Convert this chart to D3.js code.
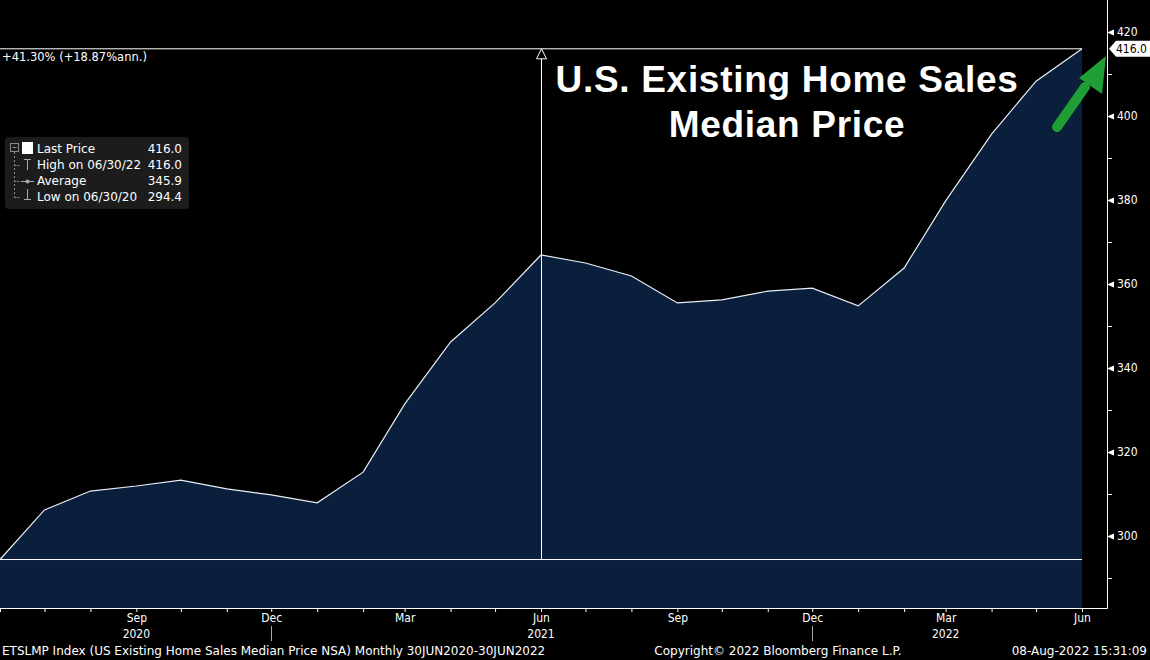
<!DOCTYPE html>
<html>
<head>
<meta charset="utf-8">
<script src="https://cdn.jsdelivr.net/npm/d3@7"></script>
<style>
    body { margin: 0; background: #000; }
    svg { display: block; }
    text { font-family: "DejaVu Sans", sans-serif; fill: #fff; }
</style>
</head>
<body>
<div id="chart"></div>
<script>
// monthly median price (thousand USD), Jun 2020 - Jun 2022
let months = ["2020-06", "2020-07", "2020-08", "2020-09", "2020-10", "2020-11", "2020-12",
    "2021-01", "2021-02", "2021-03", "2021-04", "2021-05", "2021-06", "2021-07", "2021-08",
    "2021-09", "2021-10", "2021-11", "2021-12", "2022-01", "2022-02", "2022-03", "2022-04",
    "2022-05", "2022-06"];
let prices = [294.4, 306.2, 310.7, 311.9, 313.3, 311.2, 309.8, 307.9, 315.2, 331.4, 346.2,
    355.5, 366.9, 365.0, 361.9, 355.5, 356.2, 358.3, 359.0, 354.8, 363.8, 379.8, 395.7,
    408.3, 416.0];
let yTicks = [300, 320, 340, 360, 380, 400, 420];
let yMinor = [290, 310, 330, 350, 370, 390, 410];
let monthLabels = ["Sep", "Dec", "Mar", "Jun"];
let yearLabels = [["2020-09", "2020"], ["2021-06", "2021"], ["2022-03", "2022"]];
let legendRows = [
    ["Last Price", "416.0"],
    ["High on 06/30/22", "416.0"],
    ["Average", "345.9"],
    ["Low on 06/30/20", "294.4"]
];
let highVal = 416.0, lowVal = 294.4, midMonth = "2021-06";

let parseMonth = d3.timeParse("%Y-%m");
let data = months.map((m, i) => ({date: parseMonth(m), value: prices[i]}));

let width = 1150, height = 660;
let plotRight = 1107, plotBottom = 608;

let svg = d3.select("#chart").append("svg")
    .attr("width", width)
    .attr("height", height)
    .style("background", "#000");

let x = d3.scaleTime()
    .domain([data[0].date, data[data.length - 1].date])
    .range([0, 1082]);

let y = d3.scaleLinear()
    .domain([300, 420])
    .range([536, 32]);

// area
let area = d3.area()
    .x(d => x(d.date))
    .y0(plotBottom)
    .y1(d => y(d.value));

svg.append("path")
    .datum(data)
    .attr("d", area)
    .attr("fill", "#0a1f3b");

let line = d3.line()
    .x(d => x(d.date))
    .y(d => y(d.value));

svg.append("path")
    .datum(data)
    .attr("d", line)
    .attr("fill", "none")
    .attr("stroke", "#e8eef6")
    .attr("stroke-width", 1.2);

// high / low lines and range marker
let xEnd = x(data[data.length - 1].date);
svg.append("line")
    .attr("x1", 0).attr("x2", xEnd)
    .attr("y1", y(highVal)).attr("y2", y(highVal))
    .attr("stroke", "#fff").attr("stroke-width", 1);
svg.append("line")
    .attr("x1", 0).attr("x2", xEnd)
    .attr("y1", y(lowVal)).attr("y2", y(lowVal))
    .attr("stroke", "#fff").attr("stroke-width", 1);

let xm = Math.round(x(parseMonth(midMonth))) + 0.5;
svg.append("line")
    .attr("x1", xm).attr("x2", xm)
    .attr("y1", y(highVal) + 10).attr("y2", y(lowVal))
    .attr("stroke", "#fff").attr("stroke-width", 1);
svg.append("path")
    .attr("d", `M${xm},${y(highVal)} L${xm - 5},${y(highVal) + 10} L${xm + 5},${y(highVal) + 10} Z`)
    .attr("fill", "#000").attr("stroke", "#fff").attr("stroke-width", 1);

svg.append("text")
    .attr("x", 2).attr("y", y(highVal) + 12)
    .style("font-size", "11.5px")
    .text("+41.30% (+18.87%ann.)");

// right axis
svg.append("line")
    .attr("x1", plotRight + 0.5).attr("x2", plotRight + 0.5)
    .attr("y1", 0).attr("y2", plotBottom + 0.5)
    .attr("stroke", "#fff");

let yAxis = d3.axisRight(y)
    .tickValues(yTicks)
    .tickSize(0)
    .tickPadding(10);

let yg = svg.append("g")
    .attr("transform", `translate(${plotRight},0)`)
    .call(yAxis);
yg.select(".domain").remove();
yg.selectAll(".tick text")
    .style("font-size", "12px")
    .style("font-family", "'DejaVu Sans Condensed', sans-serif")
    .attr("fill", "#fff");
yg.selectAll(".tick").append("path")
    .attr("d", "M0,0 L7,-3 L7,3 Z")
    .attr("fill", "#fff");

svg.append("g")
    .selectAll("line")
    .data(yMinor)
    .join("line")
    .attr("x1", plotRight).attr("x2", plotRight + 5)
    .attr("y1", d => Math.round(y(d)) + 0.5).attr("y2", d => Math.round(y(d)) + 0.5)
    .attr("stroke", "#fff");

// last price tag
let ly = y(prices[prices.length - 1]);
svg.append("path")
    .attr("d", `M${plotRight + 2},${ly} L${plotRight + 9},${ly - 8} L1150,${ly - 8} L1150,${ly + 8} L${plotRight + 9},${ly + 8} Z`)
    .attr("fill", "#fff");
svg.append("text")
    .attr("x", plotRight + 9).attr("y", ly + 4.5)
    .style("font-size", "12px")
    .style("font-family", "'DejaVu Sans Condensed', sans-serif")
    .style("fill", "#000")
    .text(prices[prices.length - 1].toFixed(1));

// bottom axis
svg.append("line")
    .attr("x1", 0).attr("x2", plotRight + 0.5)
    .attr("y1", plotBottom + 0.5).attr("y2", plotBottom + 0.5)
    .attr("stroke", "#fff");

let xAxis = d3.axisBottom(x)
    .ticks(d3.timeMonth.every(1))
    .tickSize(3)
    .tickFormat((d, i) => i > 0 && monthLabels.includes(d3.timeFormat("%b")(d)) ? d3.timeFormat("%b")(d) : "");

let xg = svg.append("g")
    .attr("transform", `translate(0,${plotBottom + 1})`)
    .call(xAxis);
xg.select(".domain").remove();
xg.selectAll(".tick line").attr("stroke", "#fff");
xg.selectAll(".tick text")
    .style("font-size", "12px")
    .style("font-family", "'DejaVu Sans Condensed', sans-serif")
    .attr("fill", "#fff")
    .attr("y", 4);

svg.append("g")
    .selectAll("text")
    .data(yearLabels)
    .join("text")
    .attr("x", d => x(parseMonth(d[0])))
    .attr("y", 638)
    .attr("text-anchor", "middle")
    .style("font-size", "12px")
    .style("font-family", "'DejaVu Sans Condensed', sans-serif")
    .text(d => d[1]);

// year separators
svg.append("g")
    .selectAll("line")
    .data(["2020-12", "2021-12"])
    .join("line")
    .attr("x1", d => Math.round(x(parseMonth(d))) + 0.5)
    .attr("x2", d => Math.round(x(parseMonth(d))) + 0.5)
    .attr("y1", 626).attr("y2", 641)
    .attr("stroke", "#aaa");

// footer
svg.append("text").attr("x", 2).attr("y", 655)
    .style("font-size", "12px")
    .text("ETSLMP Index (US Existing Home Sales Median Price NSA)  Monthly 30JUN2020-30JUN2022");
svg.append("text").attr("x", 778).attr("y", 655)
    .attr("text-anchor", "middle")
    .style("font-size", "12px")
    .text("Copyright\u00a9 2022 Bloomberg Finance L.P.");
svg.append("text").attr("x", 1147).attr("y", 655)
    .attr("text-anchor", "end")
    .style("font-size", "12px")
    .text("08-Aug-2022 15:31:09");

// title
let title = svg.append("text")
    .attr("text-anchor", "middle")
    .style("font-family", "'Liberation Sans', Arial, sans-serif")
    .style("font-weight", "bold")
    .style("font-size", "37px")
    .style("letter-spacing", "0.7px");
title.append("tspan").attr("x", 787).attr("y", 92).text("U.S. Existing Home Sales");
title.append("tspan").attr("x", 787).attr("y", 137).text("Median Price");

// legend
let lg = svg.append("g").attr("transform", "translate(5,137)");
lg.append("rect")
    .attr("width", 184).attr("height", 72).attr("rx", 4)
    .attr("fill", "#1c1c1c");

lg.append("rect").attr("x", 5.5).attr("y", 6.5).attr("width", 8).attr("height", 8)
    .attr("fill", "none").attr("stroke", "#888");
lg.append("line").attr("x1", 7.5).attr("x2", 11.5).attr("y1", 10.5).attr("y2", 10.5).attr("stroke", "#888");
lg.append("line").attr("x1", 9.5).attr("x2", 9.5).attr("y1", 15).attr("y2", 60.5)
    .attr("stroke", "#888").attr("stroke-dasharray", "2,2");
[28, 44, 60].forEach(yy => {
    lg.append("line").attr("x1", 9.5).attr("x2", 15).attr("y1", yy + 0.5).attr("y2", yy + 0.5)
        .attr("stroke", "#888").attr("stroke-dasharray", "2,1");
});
lg.append("rect").attr("x", 17).attr("y", 5).attr("width", 11).attr("height", 12).attr("fill", "#fff");
// high icon
lg.append("path").attr("d", "M19,22.5 H26 M22.5,22.5 V33").attr("stroke", "#aaa").attr("fill", "none");
// average icon
lg.append("path").attr("d", "M16,44.5 H29").attr("stroke", "#aaa").attr("fill", "none");
lg.append("circle").attr("cx", 22.5).attr("cy", 44.5).attr("r", 2).attr("fill", "#aaa");
// low icon
lg.append("path").attr("d", "M22.5,52 V62.5 M19,62.5 H26").attr("stroke", "#aaa").attr("fill", "none");

lg.selectAll(".lbl")
    .data(legendRows)
    .join("text")
    .attr("class", "lbl")
    .attr("x", 32)
    .attr("y", (d, i) => 16 + i * 16)
    .style("font-size", "12px")
    .text(d => d[0]);
lg.selectAll(".val")
    .data(legendRows)
    .join("text")
    .attr("class", "val")
    .attr("x", 177)
    .attr("y", (d, i) => 16 + i * 16)
    .attr("text-anchor", "end")
    .style("font-size", "12px")
    .text(d => d[1]);

// green arrow
let arrow = svg.append("g");
arrow.append("line")
    .attr("x1", 1057).attr("y1", 127).attr("x2", 1085).attr("y2", 87)
    .attr("stroke", "#1f9e35").attr("stroke-width", 10).attr("stroke-linecap", "round");
arrow.append("path")
    .attr("d", "M1106,56 L1102,94 L1079,78 Z")
    .attr("fill", "#1f9e35");
</script>
</body>
</html>
